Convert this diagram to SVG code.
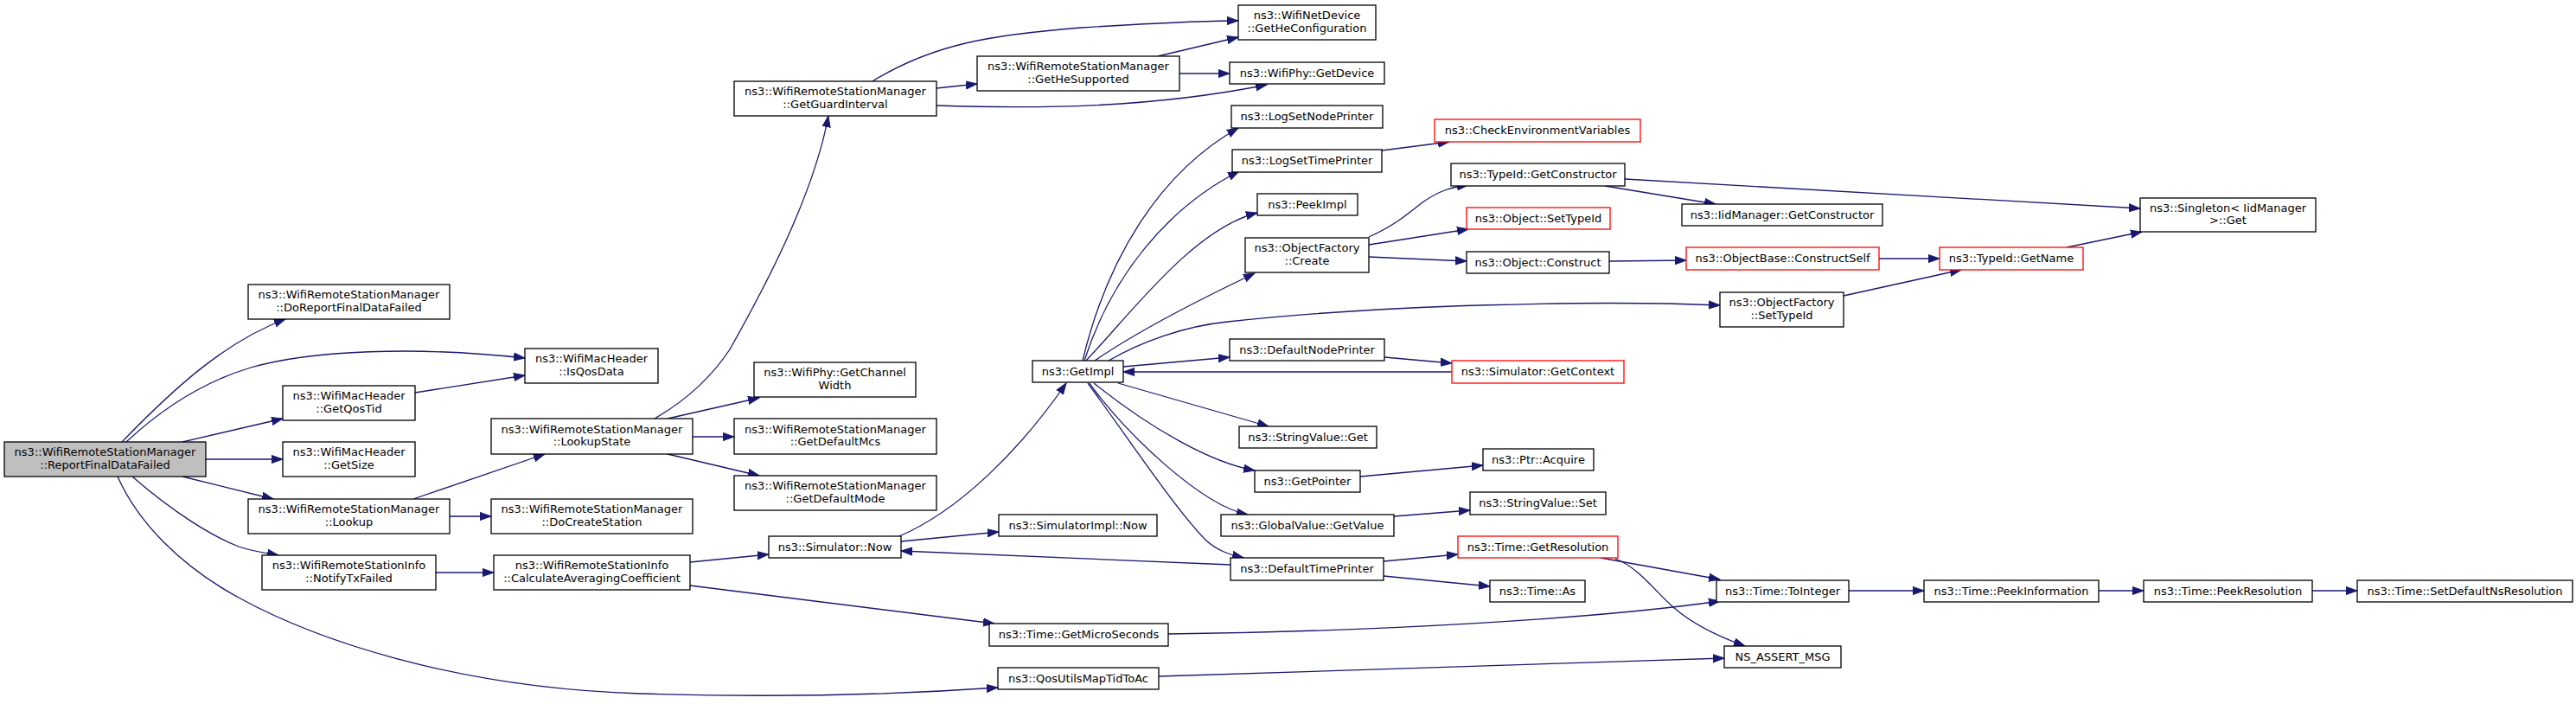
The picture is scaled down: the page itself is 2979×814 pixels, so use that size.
<svg xmlns="http://www.w3.org/2000/svg" width="2979" height="814" viewBox="0 0 2979 814">
<style>
.n rect{fill:#fff;stroke:#000;stroke-width:1.3}
.n.root rect{fill:#bfbfbf}
.n.red rect{stroke:#ff0000}
.n text{font-family:"DejaVu Sans",sans-serif;font-size:13px;text-anchor:middle;fill:#000}
#edges path{fill:none;stroke:#191970;stroke-width:1.3;marker-end:url(#arr)}
</style>
<defs>
<marker id="arr" markerUnits="userSpaceOnUse" markerWidth="14" markerHeight="11" refX="13" refY="5" orient="auto" viewBox="0 0 14 10">
<path d="M0,0.4 L13,5 L0,9.6 z" fill="#191970" stroke="#191970" stroke-width="1"/>
</marker>
</defs>
<rect width="2979" height="814" fill="#fff"/>
<g id="edges">
<path d="M141,511 C200,450 260,395 330,369"/>
<path d="M146,511 C190,470 240,440 290,425 C360,405 480,400 607,414"/>
<path d="M211,511 L327,484"/>
<path d="M238,531 L327,531"/>
<path d="M211,551 L316,577"/>
<path d="M153,551 C200,592 245,620 276,632 C290,637 305,639 322,642"/>
<path d="M136,551 C160,605 210,655 276,691 C360,737 520,795 740,802 C900,807 1040,803 1154,795"/>
<path d="M480,454 L607,434"/>
<path d="M478,577 L630,525"/>
<path d="M520,597 L568,597"/>
<path d="M504,662 L571,662"/>
<path d="M757,484 C790,465 820,440 844,404 C880,340 940,230 958,134"/>
<path d="M772,484 L878,460"/>
<path d="M801,505 L849,505"/>
<path d="M772,525 L878,550"/>
<path d="M1009,94 C1080,50 1150,40 1250,32 C1330,27 1390,24 1432,24"/>
<path d="M1083,102 L1130,97"/>
<path d="M1083,122 C1200,126 1330,125 1465,98"/>
<path d="M1339,65 L1432,43"/>
<path d="M1364,85 L1422,85"/>
<path d="M1252,417 C1280,300 1340,200 1432,148"/>
<path d="M1254,417 C1285,320 1350,240 1433,198"/>
<path d="M1256,417 C1310,360 1380,265 1454,246"/>
<path d="M1266,417 C1320,380 1390,345 1451,316"/>
<path d="M1282,417 C1320,395 1370,377 1420,372 C1600,352 1850,347 1989,353"/>
<path d="M1299,424 L1422,413"/>
<path d="M1679,430 L1299,430"/>
<path d="M1293,443 L1467,493"/>
<path d="M1265,443 C1330,495 1400,535 1451,544"/>
<path d="M1260,443 C1300,500 1390,585 1443,595"/>
<path d="M1258,443 C1300,500 1360,590 1395,625 C1408,637 1422,641 1438,645"/>
<path d="M1601,413 L1679,420"/>
<path d="M1423,653 L1042,637"/>
<path d="M1600,649 L1686,641"/>
<path d="M1600,666 L1723,678"/>
<path d="M1851,645 L1989,670"/>
<path d="M1868,646 C1895,656 1915,685 1935,702 C1960,724 1990,737 2018,747"/>
<path d="M1351,733 C1600,730 1850,715 1989,695"/>
<path d="M1340,782 L1994,761"/>
<path d="M2138,683 L2225,683"/>
<path d="M2427,683 L2479,683"/>
<path d="M2674,683 L2726,683"/>
<path d="M798,650 L889,641"/>
<path d="M798,677 L1150,721"/>
<path d="M1040,620 C1110,590 1180,520 1233,443"/>
<path d="M1042,626 L1155,615"/>
<path d="M1598,174 L1676,164"/>
<path d="M1583,274 C1610,262 1625,250 1645,234 C1665,220 1680,216 1698,214"/>
<path d="M1583,283 L1698,265"/>
<path d="M1583,297 L1696,302"/>
<path d="M1856,215 L1984,236"/>
<path d="M1879,207 L2475,241"/>
<path d="M1861,302 L1950,301"/>
<path d="M2173,299 L2243,299"/>
<path d="M2132,342 L2268,312"/>
<path d="M2390,286 L2477,268"/>
<path d="M1573,551 L1715,538"/>
<path d="M1612,597 L1700,590"/>
</g>
<g id="n_root" class="n root"><rect x="5" y="511" width="233" height="40"/><text x="121.5" y="527.3">ns3::WifiRemoteStationManager</text><text x="121.5" y="541.7">::ReportFinalDataFailed</text></g>
<g id="n_doreport" class="n"><rect x="287" y="329" width="233" height="40"/><text x="403.5" y="345.3">ns3::WifiRemoteStationManager</text><text x="403.5" y="359.7">::DoReportFinalDataFailed</text></g>
<g id="n_isqos" class="n"><rect x="607" y="403" width="154" height="40"/><text x="684" y="419.3">ns3::WifiMacHeader</text><text x="684" y="433.7">::IsQosData</text></g>
<g id="n_getqostid" class="n"><rect x="327" y="446" width="153" height="40"/><text x="403.5" y="462.3">ns3::WifiMacHeader</text><text x="403.5" y="476.7">::GetQosTid</text></g>
<g id="n_getsize" class="n"><rect x="327" y="511" width="153" height="40"/><text x="403.5" y="527.3">ns3::WifiMacHeader</text><text x="403.5" y="541.7">::GetSize</text></g>
<g id="n_lookup" class="n"><rect x="287" y="577" width="233" height="40"/><text x="403.5" y="593.3">ns3::WifiRemoteStationManager</text><text x="403.5" y="607.7">::Lookup</text></g>
<g id="n_notify" class="n"><rect x="303" y="642" width="201" height="40"/><text x="403.5" y="658.3">ns3::WifiRemoteStationInfo</text><text x="403.5" y="672.7">::NotifyTxFailed</text></g>
<g id="n_lookupstate" class="n"><rect x="568" y="484" width="233" height="41"/><text x="684.5" y="500.5">ns3::WifiRemoteStationManager</text><text x="684.5" y="515">::LookupState</text></g>
<g id="n_docreate" class="n"><rect x="568" y="577" width="233" height="40"/><text x="684.5" y="593.3">ns3::WifiRemoteStationManager</text><text x="684.5" y="607.7">::DoCreateStation</text></g>
<g id="n_calcavg" class="n"><rect x="571" y="642" width="227" height="40"/><text x="684.5" y="658.3">ns3::WifiRemoteStationInfo</text><text x="684.5" y="672.7">::CalculateAveragingCoefficient</text></g>
<g id="n_guard" class="n"><rect x="849" y="94" width="234" height="40"/><text x="966" y="110.3">ns3::WifiRemoteStationManager</text><text x="966" y="124.7">::GetGuardInterval</text></g>
<g id="n_chwidth" class="n"><rect x="872" y="419" width="187" height="40"/><text x="965.5" y="435.3">ns3::WifiPhy::GetChannel</text><text x="965.5" y="449.7">Width</text></g>
<g id="n_defmcs" class="n"><rect x="849" y="484" width="234" height="41"/><text x="966" y="500.5">ns3::WifiRemoteStationManager</text><text x="966" y="515">::GetDefaultMcs</text></g>
<g id="n_defmode" class="n"><rect x="849" y="550" width="234" height="40"/><text x="966" y="566.3">ns3::WifiRemoteStationManager</text><text x="966" y="580.7">::GetDefaultMode</text></g>
<g id="n_simnow" class="n"><rect x="889" y="620" width="153" height="25"/><text x="965.5" y="636.7">ns3::Simulator::Now</text></g>
<g id="n_hesupp" class="n"><rect x="1130" y="65" width="234" height="40"/><text x="1247" y="81.3">ns3::WifiRemoteStationManager</text><text x="1247" y="95.7">::GetHeSupported</text></g>
<g id="n_getimpl" class="n"><rect x="1194" y="417" width="105" height="25"/><text x="1246.5" y="433.7">ns3::GetImpl</text></g>
<g id="n_simimplnow" class="n"><rect x="1155" y="595" width="183" height="25"/><text x="1246.5" y="611.7">ns3::SimulatorImpl::Now</text></g>
<g id="n_getmicro" class="n"><rect x="1144" y="721" width="207" height="26"/><text x="1247.5" y="738.2">ns3::Time::GetMicroSeconds</text></g>
<g id="n_qosutils" class="n"><rect x="1154" y="772" width="186" height="25"/><text x="1247" y="788.7">ns3::QosUtilsMapTidToAc</text></g>
<g id="n_heconf" class="n"><rect x="1432" y="6" width="159" height="40"/><text x="1511.5" y="22.3">ns3::WifiNetDevice</text><text x="1511.5" y="36.7">::GetHeConfiguration</text></g>
<g id="n_getdevice" class="n"><rect x="1422" y="72" width="179" height="25"/><text x="1511.5" y="88.7">ns3::WifiPhy::GetDevice</text></g>
<g id="n_lognode" class="n"><rect x="1424" y="122" width="175" height="26"/><text x="1511.5" y="139.2">ns3::LogSetNodePrinter</text></g>
<g id="n_logtime" class="n"><rect x="1425" y="173" width="173" height="26"/><text x="1511.5" y="190.2">ns3::LogSetTimePrinter</text></g>
<g id="n_peekimpl" class="n"><rect x="1454" y="224" width="116" height="25"/><text x="1512" y="240.7">ns3::PeekImpl</text></g>
<g id="n_ofcreate" class="n"><rect x="1440" y="275" width="143" height="40"/><text x="1511.5" y="291.3">ns3::ObjectFactory</text><text x="1511.5" y="305.7">::Create</text></g>
<g id="n_defnode" class="n"><rect x="1422" y="392" width="179" height="25"/><text x="1511.5" y="408.7">ns3::DefaultNodePrinter</text></g>
<g id="n_strget" class="n"><rect x="1433" y="493" width="159" height="25"/><text x="1512.5" y="509.7">ns3::StringValue::Get</text></g>
<g id="n_getpointer" class="n"><rect x="1451" y="544" width="122" height="25"/><text x="1512" y="560.7">ns3::GetPointer</text></g>
<g id="n_gvgetvalue" class="n"><rect x="1412" y="595" width="200" height="25"/><text x="1512" y="611.7">ns3::GlobalValue::GetValue</text></g>
<g id="n_deftime" class="n"><rect x="1423" y="645" width="177" height="26"/><text x="1511.5" y="662.2">ns3::DefaultTimePrinter</text></g>
<g id="n_checkenv" class="n red"><rect x="1659" y="138" width="238" height="26"/><text x="1778" y="155.2">ns3::CheckEnvironmentVariables</text></g>
<g id="n_tidgetctor" class="n"><rect x="1678" y="189" width="201" height="26"/><text x="1778.5" y="206.2">ns3::TypeId::GetConstructor</text></g>
<g id="n_objsettid" class="n red"><rect x="1696" y="240" width="166" height="25"/><text x="1779" y="256.7">ns3::Object::SetTypeId</text></g>
<g id="n_objconstruct" class="n"><rect x="1696" y="291" width="165" height="25"/><text x="1778.5" y="307.7">ns3::Object::Construct</text></g>
<g id="n_getcontext" class="n red"><rect x="1679" y="417" width="199" height="26"/><text x="1778.5" y="434.2">ns3::Simulator::GetContext</text></g>
<g id="n_ptracq" class="n"><rect x="1715" y="519" width="128" height="25"/><text x="1779" y="535.7">ns3::Ptr::Acquire</text></g>
<g id="n_strset" class="n"><rect x="1700" y="569" width="157" height="26"/><text x="1778.5" y="586.2">ns3::StringValue::Set</text></g>
<g id="n_getres" class="n red"><rect x="1686" y="620" width="185" height="25"/><text x="1778.5" y="636.7">ns3::Time::GetResolution</text></g>
<g id="n_timeas" class="n"><rect x="1723" y="671" width="110" height="25"/><text x="1778" y="687.7">ns3::Time::As</text></g>
<g id="n_iidgetctor" class="n"><rect x="1945" y="236" width="232" height="25"/><text x="2061" y="252.7">ns3::IidManager::GetConstructor</text></g>
<g id="n_constructself" class="n red"><rect x="1950" y="286" width="223" height="26"/><text x="2061.5" y="303.2">ns3::ObjectBase::ConstructSelf</text></g>
<g id="n_ofsettid" class="n"><rect x="1989" y="338" width="143" height="40"/><text x="2060.5" y="354.3">ns3::ObjectFactory</text><text x="2060.5" y="368.7">::SetTypeId</text></g>
<g id="n_toint" class="n"><rect x="1985" y="671" width="153" height="25"/><text x="2061.5" y="687.7">ns3::Time::ToInteger</text></g>
<g id="n_assert" class="n"><rect x="1994" y="747" width="135" height="25"/><text x="2061.5" y="763.7">NS_ASSERT_MSG</text></g>
<g id="n_getname" class="n red"><rect x="2243" y="286" width="166" height="26"/><text x="2326" y="303.2">ns3::TypeId::GetName</text></g>
<g id="n_peekinfo" class="n"><rect x="2225" y="671" width="202" height="25"/><text x="2326" y="687.7">ns3::Time::PeekInformation</text></g>
<g id="n_singleton" class="n"><rect x="2475" y="229" width="203" height="39"/><text x="2576.5" y="244.8">ns3::Singleton&lt; IidManager</text><text x="2576.5" y="259.2">&gt;::Get</text></g>
<g id="n_peekres" class="n"><rect x="2479" y="671" width="195" height="25"/><text x="2576.5" y="687.7">ns3::Time::PeekResolution</text></g>
<g id="n_setdefns" class="n"><rect x="2726" y="671" width="249" height="25"/><text x="2850.5" y="687.7">ns3::Time::SetDefaultNsResolution</text></g>
</svg>
